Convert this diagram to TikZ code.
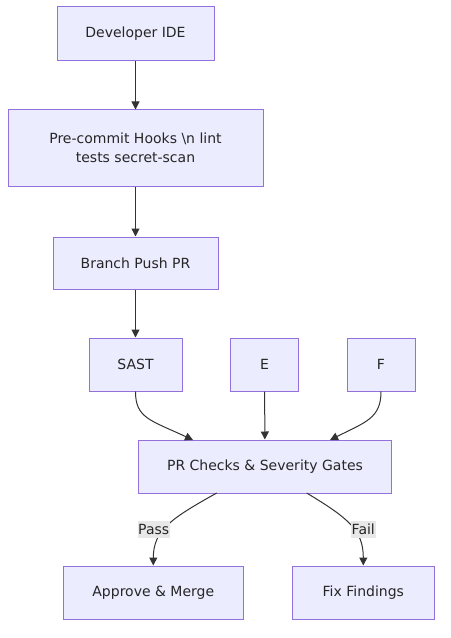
\documentclass[tikz,border=0pt]{standalone}
\usepackage{fontspec}
\setmainfont{DejaVu Sans}
\usetikzlibrary{arrows.meta}
\definecolor{nodefill}{HTML}{ECECFF}
\definecolor{nodeline}{HTML}{9370DB}
\definecolor{edgecol}{HTML}{333333}
\definecolor{labbg}{HTML}{E8E8E8}
\begin{document}
\begin{tikzpicture}[x=0.75pt,y=-0.75pt,
  box/.style={draw=nodeline,fill=nodefill,line width=0.75pt,inner sep=0pt,
    font=\fontsize{10.5pt}{14pt}\selectfont,text=black!85,align=center},
  conn/.style={draw=edgecol,line width=0.75pt,-{Triangle[length=6pt,width=6pt]}},
  lab/.style={fill=labbg,inner xsep=0.5pt,inner ysep=2.5pt,font=\fontsize{10.5pt}{14pt}\selectfont,text=black!85}]
\useasboundingbox (0,0) rectangle (450,638);
\node[box,minimum width=157*0.75pt,minimum height=54*0.75pt] (ide) at (135.5,34) {Developer IDE};
\node[box,minimum width=255*0.75pt,minimum height=76*0.75pt] (pre) at (135.5,148) {Pre-commit Hooks \textbackslash n lint\\tests secret-scan};
\node[box,minimum width=165*0.75pt,minimum height=52*0.75pt] (br) at (135.5,263) {Branch Push PR};
\node[box,minimum width=93*0.75pt,minimum height=53*0.75pt] (sast) at (135.5,364.5) {SAST};
\node[box,minimum width=68*0.75pt,minimum height=53*0.75pt] (e) at (264.5,364.5) {E};
\node[box,minimum width=68*0.75pt,minimum height=53*0.75pt] (f) at (381,364.5) {F};
\node[box,minimum width=253*0.75pt,minimum height=53*0.75pt] (pr) at (265,466.5) {PR Checks \& Severity Gates};
\node[box,minimum width=180*0.75pt,minimum height=53*0.75pt] (ap) at (153.3,592.5) {Approve \& Merge};
\node[box,minimum width=142*0.75pt,minimum height=53*0.75pt] (fix) at (363.3,592.5) {Fix Findings};
\coordinate (prA) at (193,440);
\coordinate (prB) at (330,440);
\coordinate (prC) at (216.7,493);
\coordinate (prD) at (306.7,493);
\draw[conn] (ide) -- (pre);
\draw[conn] (pre) -- (br);
\draw[conn] (br) -- (sast);
\draw[conn] (sast.south) .. controls (135.5,418) and (150,420) .. (prA);
\draw[conn] (e) -- (pr);
\draw[conn] (f.south) .. controls (381,418) and (366,422) .. (prB);
\draw[conn] (prC) .. controls (172,518) and (153.3,530) .. (ap.north);
\draw[conn] (prD) .. controls (348,518) and (363.3,530) .. (fix.north);
\node[lab] (pass) at (153.7,529.5) {Pass};
\node[lab] (fail) at (363.3,529.5) {Fail};
\end{tikzpicture}
\end{document}
